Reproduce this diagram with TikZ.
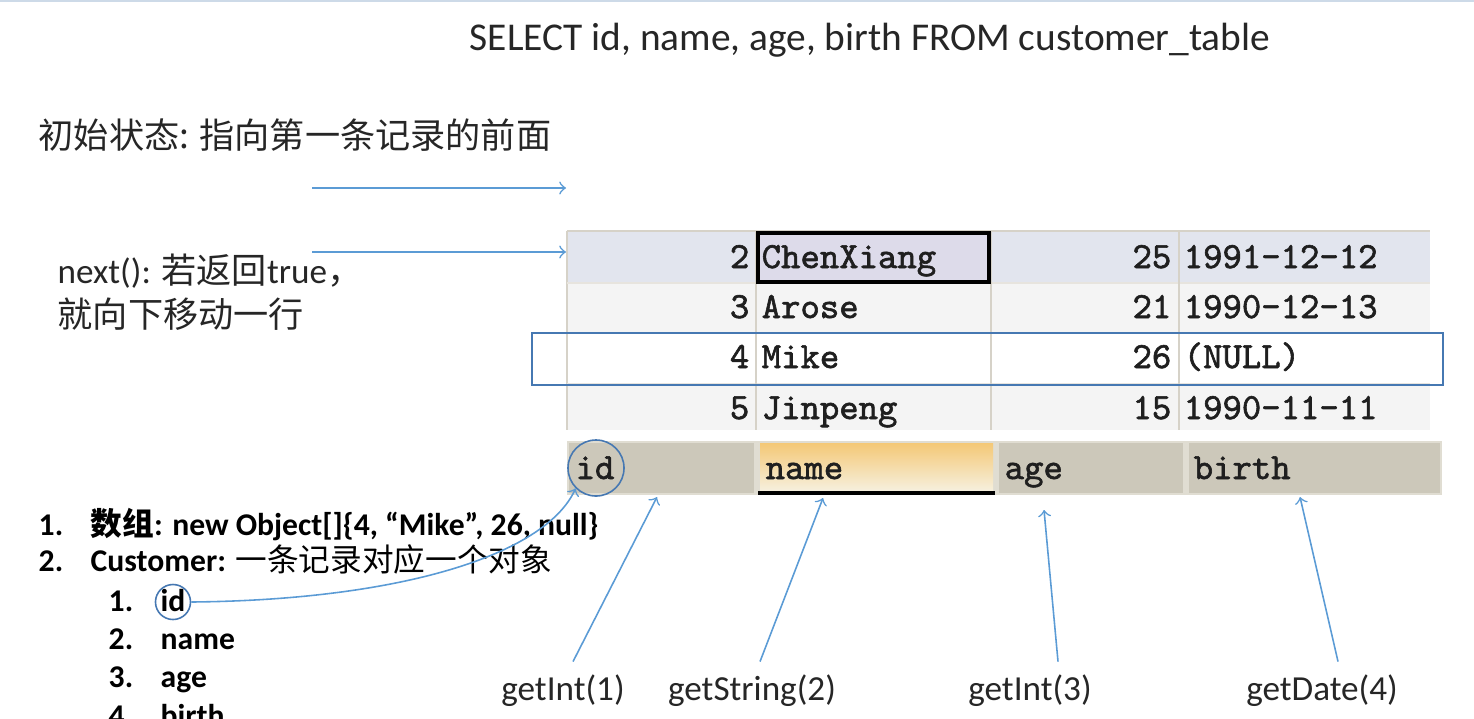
\documentclass[tikz,border=0pt]{standalone}
\usepackage{fontspec}
\setmainfont{Carlito}
\newfontfamily\cjk{Noto Sans CJK SC}
\newfontfamily\tablefont{Latin Modern Mono}[FakeBold=1.6]
\usepackage{tikz}
\definecolor{arrowblue}{RGB}{91,155,213}
\definecolor{markblue}{RGB}{70,120,178}
\definecolor{rowsel}{RGB}{226,229,238}
\definecolor{rowalt}{RGB}{244,244,244}
\definecolor{gridgray}{RGB}{214,210,200}
\definecolor{selfill}{RGB}{221,219,234}
\definecolor{hdredge}{RGB}{224,221,210}
\definecolor{hdrfill}{RGB}{204,200,186}
\definecolor{nametop}{RGB}{244,200,118}
\definecolor{namebottom}{RGB}{246,240,222}
\definecolor{topline}{RGB}{205,218,232}

\begin{document}
\begin{tikzpicture}[x=0.01cm,y=-0.01cm]
        %
        % `plain' is used for the notes and method names.
        % `cell' is used for the text in the table.
        % `item' is used for the numbered list.
        % `pointer' and `ring' are the blue marks.
        \tikzstyle{plain} = [inner sep=0pt,text=black!85,font=\fontsize{10}{12}\selectfont]
        \tikzstyle{cell} = [inner sep=0pt,text=black!88,font=\tablefont\fontsize{10.5}{12}\selectfont]
        \tikzstyle{item} = [inner sep=0pt,anchor=base west,font=\bfseries\fontsize{9}{11}\selectfont]
        \tikzstyle{pointer} = [->,draw=arrowblue,line width=0.45pt]
        \tikzstyle{ring} = [draw=markblue,circle,line width=0.45pt,inner sep=0pt]
        \useasboundingbox (0,0) rectangle (1474,718);
        \draw[topline,line width=0.6pt] (0,1) -- (1474,1);
        %
        % Query
        \node[plain,anchor=base,font=\fontsize{11.2}{13}\selectfont] (query) at (870,51)
        {SELECT id, name, age, birth FROM customer\_table};
        %
        % Notes
        \node[plain,anchor=west] (start) at (38,135) {\cjk 初始状态: 指向第一条记录的前面};
        \node[plain,anchor=base west] (next1) at (57,283) {next(): {\cjk 若返回}true{\cjk ，}};
        \node[plain,anchor=west] (next2) at (57,314) {\cjk 就向下移动一行};
        \coordinate (before) at (312,188);
        \coordinate (beforetip) at (566,188);
        \coordinate (moved) at (312,252);
        \coordinate (movedtip) at (566,252);
        \draw[pointer] (before) -- (beforetip);
        \draw[pointer] (moved) -- (movedtip);
        %
        % Table background
        \fill[rowsel] (567,231) rectangle (1430,283);
        \fill[rowalt] (567,283) rectangle (1430,333);
        \fill[white] (567,333) rectangle (1430,384);
        \fill[rowalt] (567,384) rectangle (1430,430);
        \draw[gridgray,line width=0.6pt] (567,231) -- (1430,231);
        \draw[gridgray,line width=0.6pt] (567,231) -- (567,430);
        \draw[gridgray!60,line width=0.4pt] (567,283) -- (1430,283);
        \draw[gridgray!60,line width=0.4pt] (567,384) -- (1430,384);
        \draw[gridgray,line width=0.6pt] (756,231) -- (756,430);
        \draw[gridgray,line width=0.6pt] (991,231) -- (991,430);
        \draw[gridgray,line width=0.6pt] (1179,231) -- (1179,430);
        \draw[selfill,draw=black,line width=0.9pt,fill=selfill] (758,233) rectangle (989,282);
        %
        % Row 1
        \node[cell,anchor=base east] (r1c1) at (750,268) {2};
        \node[cell,anchor=base west] (r1c2) at (761,268) {ChenXiang};
        \node[cell,anchor=base east] (r1c3) at (1172,268) {25};
        \node[cell,anchor=base west] (r1c4) at (1183,268) {1991-12-12};
        %
        % Row 2
        \node[cell,anchor=base east] (r2c1) at (750,318) {3};
        \node[cell,anchor=base west] (r2c2) at (761,318) {Arose};
        \node[cell,anchor=base east] (r2c3) at (1172,318) {21};
        \node[cell,anchor=base west] (r2c4) at (1183,318) {1990-12-13};
        %
        % Row 3
        \node[cell,anchor=base east] (r3c1) at (750,368) {4};
        \node[cell,anchor=base west] (r3c2) at (761,368) {Mike};
        \node[cell,anchor=base east] (r3c3) at (1172,368) {26};
        \node[cell,anchor=base west] (r3c4) at (1183,368) {(NULL)};
        %
        % Row 4
        \node[cell,anchor=base east] (r4c1) at (750,419) {5};
        \node[cell,anchor=base west] (r4c2) at (761,419) {Jinpeng};
        \node[cell,anchor=base east] (r4c3) at (1172,419) {15};
        \node[cell,anchor=base west] (r4c4) at (1183,419) {1990-11-11};
        %
        % Current row
        \draw[markblue,line width=0.5pt] (532,333) rectangle (1443,385);
        %
        % Header
        \fill[hdredge] (567,441) rectangle (1442,495);
        \fill[hdrfill] (569,443) rectangle (754,493);
        \shade[top color=nametop,bottom color=namebottom] (760,443) rectangle (993,491);
        \draw[black,line width=0.9pt] (758,493) -- (995,493);
        \fill[hdrfill] (999,443) rectangle (1183,493);
        \fill[hdrfill] (1189,443) rectangle (1440,493);
        \node[cell,anchor=base west] (hid) at (575,479) {id};
        \node[cell,anchor=base west] (hname) at (765,479) {name};
        \node[cell,anchor=base west] (hage) at (1004,479) {age};
        \node[cell,anchor=base west] (hbirth) at (1193,479) {birth};
        \node[ring,minimum size=0.56cm] (hidring) at (596,468) {};
        %
        % Getters
        \node[plain,anchor=base] (getint1) at (563,700) {getInt(1)};
        \node[plain,anchor=base] (getstr2) at (752,700) {getString(2)};
        \node[plain,anchor=base] (getint3) at (1030,700) {getInt(3)};
        \node[plain,anchor=base] (getdate4) at (1322,700) {getDate(4)};
        \coordinate (col1) at (657,497);
        \coordinate (col2) at (823,498);
        \coordinate (col3) at (1044,510);
        \coordinate (col4) at (1300,497);
        \draw[pointer] (getint1.north) ++(10,-12) -- (col1);
        \draw[pointer] (getstr2.north) ++(8,-12) -- (col2);
        \draw[pointer] (getint3.north) ++(28,-12) -- (col3);
        \draw[pointer] (getdate4.north) ++(16,-12) -- (col4);
        %
        % List
        \node[item] (n1) at (38,535) {1.};
        \node[item] (array) at (90,535) {{\cjk 数组}: new Object[]\{4, “Mike”, 26, null\}};
        \node[item] (n2) at (38,571) {2.};
        \node[item] (customer) at (90,571) {Customer: {\cjk\mdseries 一条记录对应一个对象}};
        \node[item] (s1) at (108,611) {1.};
        \node[item] (fid) at (160,611) {id};
        \node[item] (s2) at (108,649) {2.};
        \node[item] (fname) at (160,649) {name};
        \node[item] (s3) at (108,687) {3.};
        \node[item] (fage) at (160,687) {age};
        \node[item] (s4) at (108,726) {4.};
        \node[item] (fbirth) at (160,726) {birth};
        \node[ring,minimum size=0.35cm] (fidring) at (173,602) {};
        \draw[pointer] (fidring.east) .. controls (400,600) and (545,555) .. (hidring.south west);
        %
\end{tikzpicture}
\end{document}
